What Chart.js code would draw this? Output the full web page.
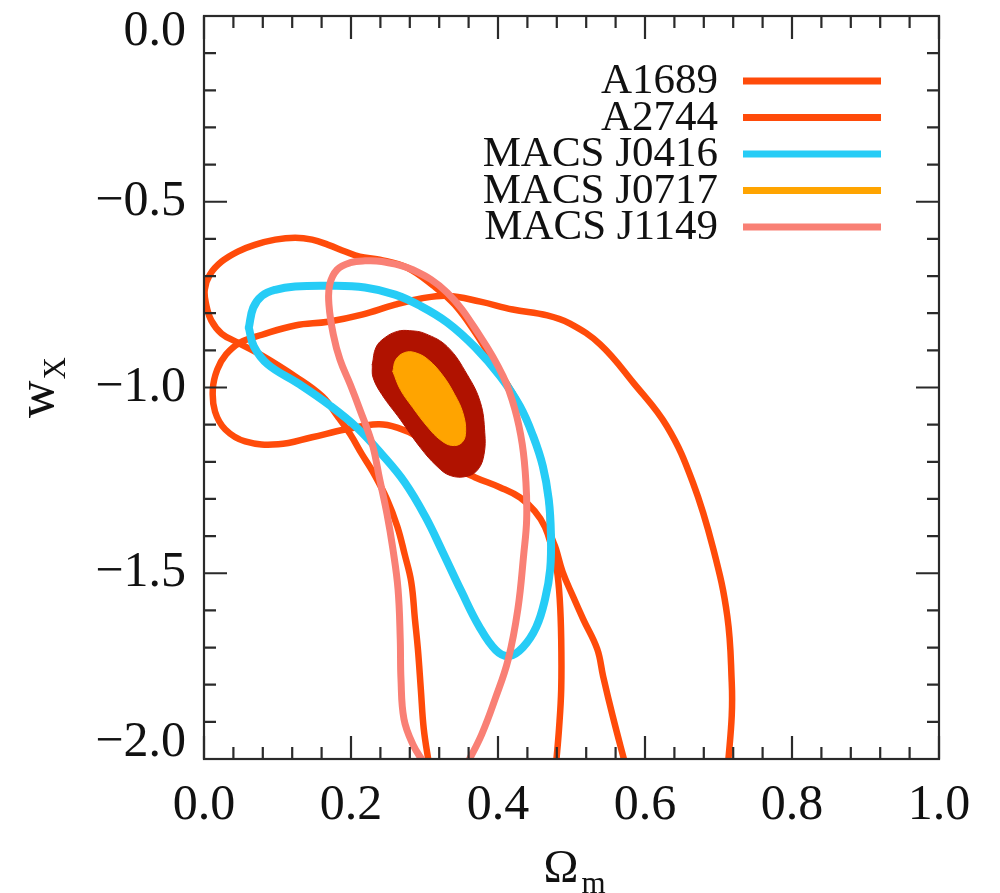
<!DOCTYPE html>
<html>
<head>
<meta charset="utf-8">
<script src="https://cdn.jsdelivr.net/npm/chart.js@4.4.1/dist/chart.umd.min.js"></script>
<style>
html,body{margin:0;padding:0;background:#fff;}
#wrap{width:1000px;height:893px;position:relative;}
canvas{display:block;}
</style>
</head>
<body>
<div id="wrap"><canvas id="c" width="1000" height="893"></canvas></div>
<script>
// ---------- data ----------
const xTickValues = [0, 0.2, 0.4, 0.6, 0.8, 1.0];
const xTickLabels = ['0.0', '0.2', '0.4', '0.6', '0.8', '1.0'];
const yTickValues = [0, -0.5, -1.0, -1.5, -2.0];
const yTickLabels = ['0.0', '\u22120.5', '\u22121.0', '\u22121.5', '\u22122.0'];
const seriesLabels = ['A1689', 'A2744', 'MACS J0416', 'MACS J0717', 'MACS J1149'];

const a1689X = [0.306,0.299,0.295,0.291,0.287,0.282,0.273,0.263,0.249,0.230,0.215,0.199,0.182,0.161,0.124,0.079,0.046,0.024,0.010,0.003,0.001,0.008,0.024,0.046,0.069,0.097,0.124,0.147,0.169,0.192,0.212,0.239,0.276,0.312,0.341,0.369,0.396,0.430,0.448,0.461,0.469,0.472,0.479,0.488,0.502,0.516,0.535,0.543,0.556,0.573];
const a1689Y = [-2.013,-1.919,-1.812,-1.704,-1.624,-1.524,-1.449,-1.374,-1.301,-1.228,-1.180,-1.126,-1.078,-1.024,-0.970,-0.914,-0.879,-0.855,-0.820,-0.777,-0.737,-0.696,-0.661,-0.634,-0.616,-0.602,-0.597,-0.602,-0.616,-0.634,-0.648,-0.656,-0.677,-0.726,-0.777,-0.852,-0.938,-1.051,-1.132,-1.212,-1.301,-1.395,-1.435,-1.497,-1.562,-1.624,-1.704,-1.777,-1.884,-2.013];

const a2744X = [0.479,0.483,0.486,0.486,0.484,0.480,0.473,0.464,0.450,0.430,0.403,0.369,0.341,0.317,0.290,0.263,0.237,0.192,0.147,0.101,0.056,0.029,0.015,0.012,0.018,0.030,0.049,0.079,0.124,0.169,0.215,0.260,0.294,0.331,0.376,0.420,0.467,0.498,0.539,0.584,0.630,0.665,0.693,0.712,0.718,0.718,0.713];
const a2744Y = [-2.013,-1.919,-1.812,-1.677,-1.570,-1.489,-1.430,-1.376,-1.333,-1.296,-1.269,-1.242,-1.215,-1.175,-1.132,-1.108,-1.099,-1.113,-1.134,-1.153,-1.145,-1.113,-1.065,-1.005,-0.952,-0.911,-0.879,-0.858,-0.833,-0.823,-0.804,-0.777,-0.761,-0.753,-0.769,-0.790,-0.806,-0.828,-0.884,-0.987,-1.105,-1.255,-1.435,-1.616,-1.793,-1.884,-2.013];

const j0416X = [0.061,0.067,0.079,0.097,0.124,0.171,0.219,0.260,0.294,0.331,0.369,0.403,0.430,0.448,0.461,0.469,0.472,0.471,0.464,0.452,0.434,0.415,0.397,0.374,0.350,0.325,0.301,0.273,0.242,0.208,0.171,0.128,0.087,0.068,0.061];
const j0416Y = [-0.839,-0.785,-0.753,-0.737,-0.728,-0.726,-0.731,-0.750,-0.780,-0.825,-0.892,-0.970,-1.051,-1.132,-1.212,-1.301,-1.395,-1.489,-1.570,-1.645,-1.699,-1.723,-1.707,-1.642,-1.548,-1.444,-1.347,-1.255,-1.180,-1.108,-1.048,-0.989,-0.938,-0.890,-0.839];

const j0717OuterX = [0.229,0.234,0.246,0.263,0.280,0.301,0.331,0.358,0.376,0.382,0.381,0.373,0.358,0.335,0.317,0.294,0.267,0.242,0.230,0.229];
const j0717OuterY = [-0.938,-0.892,-0.866,-0.849,-0.847,-0.855,-0.890,-0.965,-1.040,-1.121,-1.180,-1.220,-1.239,-1.237,-1.212,-1.161,-1.086,-1.019,-0.973,-0.938];
const j0717InnerX = [0.257,0.261,0.273,0.287,0.305,0.325,0.341,0.352,0.356,0.351,0.337,0.321,0.305,0.284,0.267,0.257];
const j0717InnerY = [-0.957,-0.925,-0.906,-0.906,-0.925,-0.968,-1.019,-1.067,-1.118,-1.148,-1.156,-1.140,-1.108,-1.054,-1.005,-0.957];

const j1149X = [0.300,0.284,0.272,0.268,0.267,0.264,0.257,0.249,0.239,0.229,0.212,0.199,0.185,0.176,0.170,0.171,0.181,0.199,0.219,0.242,0.284,0.331,0.376,0.407,0.423,0.433,0.438,0.439,0.435,0.427,0.414,0.396,0.378,0.358];
const j1149Y = [-2.013,-1.960,-1.892,-1.785,-1.677,-1.543,-1.435,-1.341,-1.247,-1.153,-1.059,-0.992,-0.925,-0.858,-0.777,-0.723,-0.683,-0.664,-0.659,-0.661,-0.683,-0.745,-0.863,-0.970,-1.059,-1.153,-1.255,-1.355,-1.449,-1.597,-1.731,-1.839,-1.933,-2.013];

// ---------- styles ----------
const ORANGERED = '#FF4B0A';
const CYAN = '#26CCF6';
const ORANGE = '#FFA400';
const DARKRED = '#B01200';
const SALMON = '#F98075';
const legendColors = [ORANGERED, ORANGERED, CYAN, ORANGE, SALMON];
const SERIF = '"Liberation Serif", "Times New Roman", serif';

function pts(xs, ys) { return xs.map((x, i) => ({ x: x, y: ys[i] })); }

const common = { pointRadius: 0, pointHoverRadius: 0, tension: 0.4, fill: false, clip: 0,
                 borderCapStyle: 'round', borderJoinStyle: 'round' };

const datasets = [
  Object.assign({}, common, { label: seriesLabels[4], data: pts(j1149X, j1149Y), borderColor: SALMON, borderWidth: 7, order: 0 }),
  Object.assign({}, common, { label: seriesLabels[3] + ' 68%', data: pts(j0717InnerX, j0717InnerY), borderColor: ORANGE, backgroundColor: ORANGE, fill: 'shape', borderWidth: 1, order: 1 }),
  Object.assign({}, common, { label: seriesLabels[3] + ' 95%', data: pts(j0717OuterX, j0717OuterY), borderColor: DARKRED, backgroundColor: DARKRED, fill: 'shape', borderWidth: 1, order: 2 }),
  Object.assign({}, common, { label: seriesLabels[2], data: pts(j0416X, j0416Y), borderColor: CYAN, borderWidth: 8, order: 3 }),
  Object.assign({}, common, { label: seriesLabels[1], data: pts(a2744X, a2744Y), borderColor: ORANGERED, borderWidth: 6.5, order: 4 }),
  Object.assign({}, common, { label: seriesLabels[0], data: pts(a1689X, a1689Y), borderColor: ORANGERED, borderWidth: 6.5, order: 5 })
];

// ---------- plugins ----------
const framePlugin = {
  id: 'frame',
  afterDatasetsDraw(chart) {
    const { ctx, chartArea: a, scales } = chart;
    const xs = scales.x, ys = scales.y;
    ctx.save();
    ctx.strokeStyle = '#2a2a2a';
    ctx.lineWidth = 2.2;
    ctx.strokeRect(a.left, a.top, a.right - a.left, a.bottom - a.top);
    ctx.beginPath();
    for (let i = 0; i <= 25; i++) {
      const px = xs.getPixelForValue(i * 0.04);
      const len = (i % 5 === 0) ? 23 : 12;
      ctx.moveTo(px, a.bottom); ctx.lineTo(px, a.bottom - len);
      ctx.moveTo(px, a.top); ctx.lineTo(px, a.top + len);
    }
    for (let i = 0; i <= 20; i++) {
      const py = ys.getPixelForValue(-i * 0.1);
      const len = (i % 5 === 0) ? 23 : 12;
      ctx.moveTo(a.left, py); ctx.lineTo(a.left + len, py);
      ctx.moveTo(a.right, py); ctx.lineTo(a.right - len, py);
    }
    ctx.stroke();
    ctx.restore();
  }
};

const legendPlugin = {
  id: 'innerLegend',
  afterDraw(chart) {
    const { ctx, chartArea: a } = chart;
    ctx.save();
    ctx.font = '43px ' + SERIF;
    ctx.fillStyle = '#111';
    ctx.textAlign = 'right';
    ctx.textBaseline = 'alphabetic';
    const textRight = a.left + 514;
    const lineX0 = a.left + 539, lineX1 = a.left + 677;
    seriesLabels.forEach((lab, i) => {
      const yy = a.top + 65 + i * 36.5;
      ctx.fillText(lab, textRight, yy + 12);
      ctx.strokeStyle = legendColors[i];
      ctx.lineWidth = 7;
      ctx.lineCap = 'butt';
      ctx.beginPath(); ctx.moveTo(lineX0, yy); ctx.lineTo(lineX1, yy); ctx.stroke();
    });
    ctx.restore();
  }
};

const titlePlugin = {
  id: 'axisTitles',
  afterDraw(chart) {
    const { ctx, chartArea: a } = chart;
    ctx.save();
    ctx.fillStyle = '#111';
    ctx.textAlign = 'left';
    ctx.textBaseline = 'alphabetic';
    // x title: Omega_m
    const bigO = '47px ' + SERIF, big = '52px ' + SERIF, small = '31px ' + SERIF;
    ctx.font = bigO; const wO = ctx.measureText('\u03A9').width;
    ctx.font = small; const wm = ctx.measureText('m').width;
    const cx = (a.left + a.right) / 2 + 3;
    const x0 = cx - (wO + 3 + wm) / 2;
    ctx.font = bigO; ctx.fillText('\u03A9', x0, 882);
    ctx.font = small; ctx.fillText('m', x0 + wO + 3, 893);
    // y title: w_X (rotated)
    ctx.font = big; const ww = ctx.measureText('w').width;
    ctx.font = small; const wX = ctx.measureText('X').width;
    const cy = (a.top + a.bottom) / 2;
    ctx.translate(53, cy + (ww + 1 + wX) / 2);
    ctx.rotate(-Math.PI / 2);
    ctx.font = big; ctx.fillText('w', 0, 0);
    ctx.font = small; ctx.fillText('X', ww + 1, 12);
    ctx.restore();
  }
};

// ---------- chart ----------
new Chart(document.getElementById('c'), {
  type: 'line',
  data: { datasets: datasets },
  options: {
    responsive: false,
    animation: false,
    events: [],
    layout: { padding: { top: 16, right: 61, left: 0, bottom: 0 } },
    plugins: { legend: { display: false }, tooltip: { enabled: false } },
    scales: {
      x: {
        type: 'linear', min: 0, max: 1,
        grid: { display: false, drawTicks: false },
        border: { display: false },
        afterBuildTicks: s => { s.ticks = xTickValues.map(v => ({ value: v })); },
        afterFit: s => { s.height = 134; s.paddingLeft = 0; s.paddingRight = 0; },
        ticks: {
          padding: 17, maxRotation: 0, autoSkip: false, color: '#111',
          font: { family: SERIF, size: 50, lineHeight: 1.2 },
          callback: (v) => xTickLabels[xTickValues.findIndex(t => Math.abs(t - v) < 1e-9)]
        }
      },
      y: {
        type: 'linear', min: -2, max: 0,
        grid: { display: false, drawTicks: false },
        border: { display: false },
        afterBuildTicks: s => { s.ticks = yTickValues.map(v => ({ value: v })); },
        afterFit: s => { s.width = 204; s.paddingTop = 0; s.paddingBottom = 0; },
        ticks: {
          padding: 18, autoSkip: false, color: '#111',
          font: { family: SERIF, size: 50, lineHeight: '32px' },
          callback: (v) => {
            const i = yTickValues.findIndex(t => Math.abs(t - v) < 1e-9);
            const lab = yTickLabels[i];
            if (i === 0) return ['', lab];
            if (i === yTickValues.length - 1) return [lab, ''];
            return lab;
          }
        }
      }
    }
  },
  plugins: [framePlugin, legendPlugin, titlePlugin]
});
</script>
</body>
</html>
